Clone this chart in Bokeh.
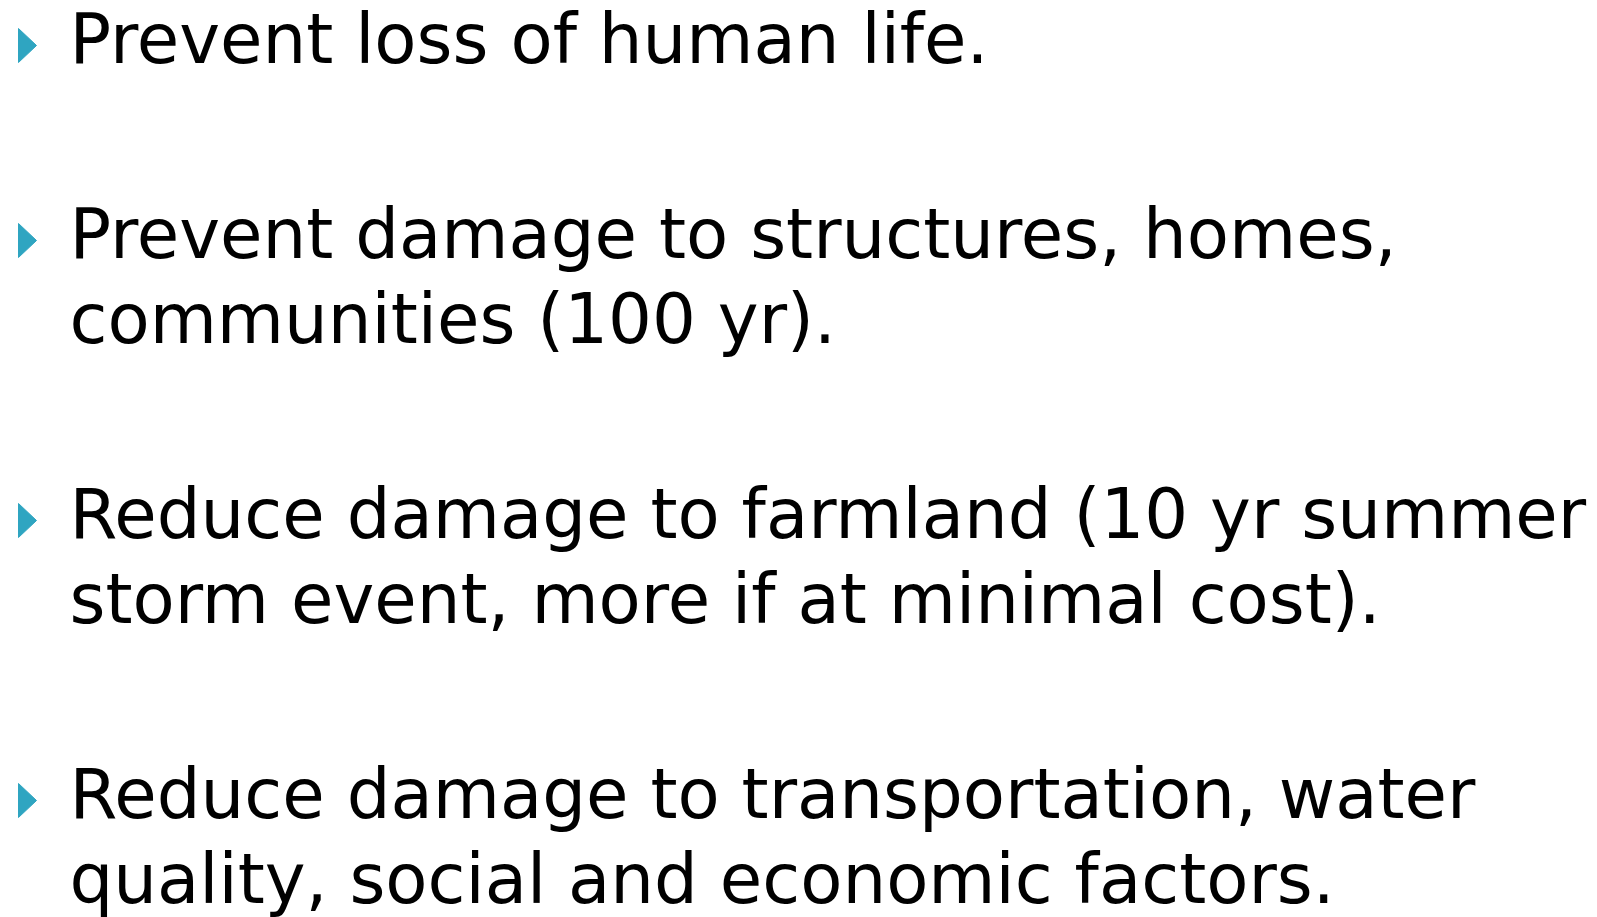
from bokeh.plotting import figure
from bokeh.models import Range1d
from bokeh.core.properties import value
from bokeh.embed import file_html
from bokeh.resources import INLINE

# Slide content: one list of wrapped lines per bullet
bullet_1 = ["Prevent loss of human life."]
bullet_2 = ["Prevent damage to structures, homes,", "communities (100 yr)."]
bullet_3 = ["Reduce damage to farmland (10 yr summer", "storm event, more if at minimal cost)."]
bullet_4 = ["Reduce damage to transportation, water", "quality, social and economic factors."]
bullets = [bullet_1, bullet_2, bullet_3, bullet_4]

W, H = 1597, 917
TEXT_X = 69
FIRST_BASE = 63
LINE_GAP = 85
PARA_GAP = 195
FONT_PX = 69
BASE_FIX = -25   # empirical correction of the rendered baseline

p = figure(width=W, height=H, output_backend="svg", toolbar_location=None,
           x_range=Range1d(0, W), y_range=Range1d(H, 0), min_border=0)
p.axis.visible = False
p.grid.visible = False
p.outline_line_color = None
p.background_fill_color = "white"
p.border_fill_color = "white"

xs, ys, texts = [], [], []
tri_x, tri_y = [], []
base = FIRST_BASE
for lines in bullets:
    c = base - 18
    tri_x.append([18, 36, 18])
    tri_y.append([c - 17, c, c + 17])
    for j, line in enumerate(lines):
        xs.append(TEXT_X)
        ys.append(base + j * LINE_GAP + BASE_FIX)
        texts.append(line)
    base = base + (len(lines) - 1) * LINE_GAP + PARA_GAP

p.patches(tri_x, tri_y, fill_color="#2fa5c1", line_color="#2fa5c1", line_width=1)
p.text(x=xs, y=ys, text=texts, text_font=value("DejaVu Sans"), text_font_size=f"{FONT_PX}px",
       text_baseline="alphabetic", text_align="left", text_color="black")

open("out.html", "w").write(file_html(p, INLINE))
